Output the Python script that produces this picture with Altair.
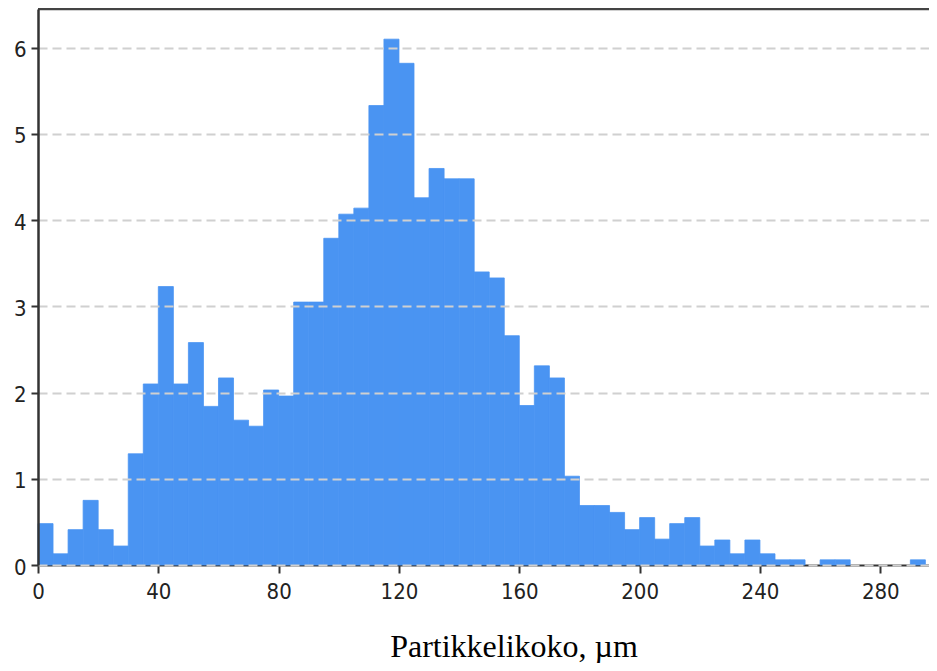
import altair as alt
import pandas as pd

# Histogram bins (lower edges, width 5 µm)
bin_start = list(range(0, 300, 5))
density = [
    0.48, 0.13, 0.41, 0.75, 0.41, 0.22, 1.29, 2.10, 3.23, 2.10,
    2.58, 1.84, 2.17, 1.68, 1.61, 2.03, 1.96, 3.05, 3.05, 3.79,
    4.07, 4.14, 5.33, 6.10, 5.82, 4.26, 4.60, 4.48, 4.48, 3.40,
    3.33, 2.66, 1.85, 2.31, 2.17, 1.03, 0.69, 0.69, 0.61, 0.41,
    0.55, 0.30, 0.48, 0.55, 0.22, 0.29, 0.13, 0.29, 0.13, 0.06,
    0.06, 0.00, 0.06, 0.06, 0.00, 0.00, 0.00, 0.00, 0.06, 0.00,
]
x_ticks = [0, 40, 80, 120, 160, 200, 240, 280]
y_ticks = [0, 1, 2, 3, 4, 5, 6]
x_title = "Partikkelikoko, µm"

df = pd.DataFrame({
    "start": bin_start,
    "end": [s + 5 for s in bin_start],
    "value": density,
})

W, H = 891, 556
X_MAX = 296.2
LABEL_FONT = "DejaVu Sans Condensed, DejaVu Sans"
BAR = "#4a94f2"

bars = alt.Chart(df).transform_filter("datum.value > 0").mark_rect(
    color=BAR, stroke=BAR, strokeWidth=0.8
).encode(
    x=alt.X(
        "start:Q",
        scale=alt.Scale(domain=[0, X_MAX], nice=False, zero=False),
        axis=alt.Axis(
            values=x_ticks, format="d", grid=False,
            domainColor="#333333", domainWidth=2,
            tickColor="#333333", tickWidth=2, tickSize=8,
            labelFont=LABEL_FONT, labelFontSize=22, labelColor="#222222",
            labelPadding=8, labelFlush=False, labelOverlap=False,
            title=x_title, titleFont="Liberation Serif", titleFontSize=32,
            titleFontWeight="normal", titleColor="#000000",
            titleX=475.5, titleY=91.5, titleAlign="center",
            titleBaseline="alphabetic", zindex=0,
        ),
    ),
    x2="end:Q",
    y=alt.Y(
        "value:Q",
        scale=alt.Scale(domain=[0, 6.45], nice=False),
        axis=alt.Axis(
            values=y_ticks, format="d", title=None,
            grid=True, gridDash=[9, 5], gridColor="#d0d0d0", gridWidth=2,
            domainColor="#333333", domainWidth=2.5,
            tickColor="#333333", tickWidth=2, tickSize=7,
            labelFont=LABEL_FONT, labelFontSize=22, labelColor="#222222",
            labelPadding=5, labelOffset=2, zindex=1,
        ),
    ),
)

top = alt.Chart(pd.DataFrame({"a": [0]})).mark_rule(
    color="#444444", strokeWidth=2.5
).encode(x=alt.value(0), x2=alt.value(W), y=alt.value(0))

chart = alt.layer(bars, top).properties(
    width=W, height=H,
    autosize=alt.AutoSizeParams(type="none"),
    padding={"left": 30, "top": 1, "right": 0, "bottom": 98},
    background="white",
).configure_view(stroke=None)

chart.save("out.html", embed_options={"renderer": "svg", "actions": False})
